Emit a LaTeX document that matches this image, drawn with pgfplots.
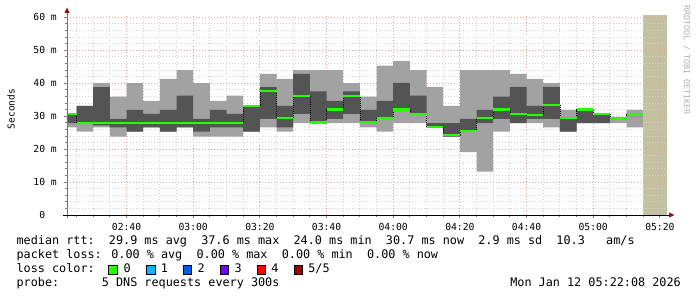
\documentclass[border=0pt]{standalone}
\usepackage{pgfplots}
\pgfplotsset{compat=1.18}
\usepackage{pgfplotstable}
\usepgfplotslibrary{fillbetween}
\usepackage{fontspec}
\setmainfont{DejaVu Sans Mono}
\newfontfamily\monof{DejaVu Sans Mono}
\newcommand\legf{\monof\fontsize{11.8}{14}\selectfont}
\newcommand\tickf{\monof\fontsize{9.7}{11}\selectfont}

\definecolor{smokelight}{RGB}{162,162,162}
\definecolor{smokedark}{RGB}{84,84,84}
\definecolor{medgreen}{RGB}{38,255,0}
\definecolor{nodata}{RGB}{196,193,161}
\definecolor{mgrid}{RGB}{232,160,160}
\definecolor{mingrid}{RGB}{210,210,210}
\definecolor{arrowred}{RGB}{140,20,20}
\definecolor{lossA}{RGB}{0,184,255}
\definecolor{lossB}{RGB}{0,89,255}
\definecolor{lossC}{RGB}{120,0,255}
\definecolor{lossD}{RGB}{255,0,0}
\definecolor{lossE}{RGB}{160,0,0}
\definecolor{wmark}{RGB}{175,175,175}

\pgfplotstableread{
x lL dL dH lH med
22.133 26.6 27.9 30.4 30.4 30.7
25 25.3 28.0 33.1 33.1 28.0
30 26.6 27.2 38.8 40.0 28.0
35 23.8 26.6 29.2 35.9 28.0
40 25.3 25.3 31.9 40.0 28.0
45 26.6 26.6 30.7 34.6 28.0
50 25.3 25.3 31.9 41.3 28.0
55 26.6 26.6 36.2 44.0 28.0
60 23.8 25.3 29.2 40.0 28.0
65 23.8 26.6 31.9 34.6 28.0
70 23.8 26.6 30.7 36.2 28.0
75 25.3 25.3 33.0 33.0 33.2
80 26.6 29.2 38.8 42.8 37.6
85 25.3 26.6 33.1 41.3 29.4
90 27.9 30.7 42.8 44.0 36.1
95 27.9 27.9 37.5 44.0 28.1
100 27.9 29.2 34.6 44.0 32.0
105 27.9 30.7 37.5 40.0 36.1
110 26.6 27.9 31.9 35.9 28.1
115 25.3 29.2 34.6 45.3 29.4
120 27.9 31.9 40.1 46.8 32.0
125 27.9 30.7 36.2 44.0 30.7
130 26.6 26.6 27.9 38.9 26.8
135 23.8 23.8 27.9 33.1 24.2
140 19.1 25.3 29.2 44.0 25.4
145 13.2 27.9 31.9 44.0 29.4
150 25.3 29.2 35.9 44.0 32.0
155 27.9 27.9 38.9 42.8 30.7
160 27.9 29.2 33.1 41.3 30.3
165 26.6 29.2 38.9 40.0 33.5
170 25.3 25.3 29.2 31.9 29.4
175 27.9 27.9 31.9 31.9 32.0
180 27.9 27.9 30.7 30.7 30.6
185 27.9 29.2 29.2 29.2 29.3
190 26.6 30.0 30.0 31.9 30.7
195 26.6 30.0 30.0 31.9 30.7
}\smoke

\begin{document}
\begin{tikzpicture}[x=1pt,y=1pt]
\begin{axis}[
  set layers,
  at={(0,0)}, anchor=south west,
  width=600pt, height=200pt, scale only axis,
  xmin=22.133, xmax=202.133, ymin=0, ymax=60.7,
  axis line style={draw=none},
  xtick={40,60,...,200},
  xticklabels={02:40,03:00,03:20,03:40,04:00,04:20,04:40,05:00,05:20},
  minor xtick={25,30,...,200},
  ytick={0,10,...,60},
  yticklabels={0\hphantom{mm},10 m,20 m,30 m,40 m,50 m,60 m},
  minor ytick={2,4,...,60},
  xtick pos=bottom, ytick pos=left,
  tick align=outside,
  major tick length=3pt, minor tick length=2pt,
  every tick/.style={gray, line width=0.8pt},
  grid=both,
  major grid style={mgrid, line width=0.8pt, dash pattern=on 1pt off 2pt},
  minor grid style={mingrid, line width=0.8pt, dash pattern=on 1pt off 2pt},
  xticklabel style={font=\tickf, inner sep=0pt, anchor=base, yshift=-13pt},
  yticklabel style={font=\tickf, inner sep=0pt, anchor=base east, xshift=-7pt, yshift=-3.5pt},
]
\addplot[on layer=axis background, fill=nodata, draw=none] coordinates {(195,0) (195,60.7) (202.133,60.7) (202.133,0)} \closedcycle;
\addplot[name path=pLL, const plot mark left, draw=none, forget plot] table[x=x,y=lL]{\smoke};
\addplot[name path=pLH, const plot mark left, draw=none, forget plot] table[x=x,y=lH]{\smoke};
\addplot[name path=pDL, const plot mark left, draw=none, forget plot] table[x=x,y=dL]{\smoke};
\addplot[name path=pDH, const plot mark left, draw=none, forget plot] table[x=x,y=dH]{\smoke};
\addplot[fill=smokelight, draw=none] fill between[of=pLH and pLL];
\addplot[fill=smokedark, draw=none] fill between[of=pDH and pDL];
\addplot[const plot mark left, black, dash pattern=on 1pt off 1pt, line width=0.6pt] table[x=x,y=med]{\smoke};
\addplot[jump mark left, medgreen, line width=2.2pt] table[x=x,y=med]{\smoke};
\end{axis}
% axis lines with arrows
\draw[gray!90!black, line width=0.9pt] (0,-3) -- (0,203);
\fill[arrowred] (-2.6,202) -- (2.6,202) -- (0,207.5) -- cycle;
\draw[black, line width=0.9pt] (-4,0) -- (603,0);
\fill[arrowred] (602,-2.6) -- (602,2.6) -- (607.5,0) -- cycle;
% unit label and watermark
\node[rotate=90, font=\monof\fontsize{9.5}{11}\selectfont, inner sep=0pt] at (-56,106) {Seconds};
\node[rotate=-90, font=\monof\fontsize{8.3}{10}\selectfont, text=wmark, inner sep=0pt] at (619.5,155) {RRDTOOL / TOBI OETIKER};
% legend text
\node[anchor=base west, inner sep=0pt, font=\legf] at (-50.6,-30) {median rtt:~~29.9 ms avg~~37.6 ms max~~24.0 ms min~~30.7 ms now~~2.9 ms sd~~10.3~~~am/s};
\node[anchor=base west, inner sep=0pt, font=\legf] at (-50.6,-44) {packet loss: 0.00 \% avg~~0.00 \% max~~0.00 \% min~~0.00 \% now};
\node[anchor=base west, inner sep=0pt, font=\legf] at (-50.6,-58) {loss color:};
\filldraw[fill=medgreen, draw=black, line width=0.8pt] (41.6,-59) rectangle ++(8.5,9);
\node[anchor=base west, inner sep=0pt, font=\legf] at (56.5,-58) {0};
\filldraw[fill=lossA, draw=black, line width=0.8pt] (79.4,-59) rectangle ++(8.5,9);
\node[anchor=base west, inner sep=0pt, font=\legf] at (93.6,-58) {1};
\filldraw[fill=lossB, draw=black, line width=0.8pt] (116.3,-59) rectangle ++(8.5,9);
\node[anchor=base west, inner sep=0pt, font=\legf] at (130.5,-58) {2};
\filldraw[fill=lossC, draw=black, line width=0.8pt] (153.2,-59) rectangle ++(8.5,9);
\node[anchor=base west, inner sep=0pt, font=\legf] at (167.4,-58) {3};
\filldraw[fill=lossD, draw=black, line width=0.8pt] (190.0,-59) rectangle ++(8.5,9);
\node[anchor=base west, inner sep=0pt, font=\legf] at (204.2,-58) {4};
\filldraw[fill=lossE, draw=black, line width=0.8pt] (226.9,-59) rectangle ++(8.5,9);
\node[anchor=base west, inner sep=0pt, font=\legf] at (241.1,-58) {5/5};
\node[anchor=base west, inner sep=0pt, font=\legf] at (-50.6,-72) {probe:~~~~~~5 DNS requests every 300s};
\node[anchor=base east, inner sep=0pt, font=\legf] at (614,-72) {Mon Jan 12 05:22:08 2026};
\pgfresetboundingbox
\path[use as bounding box] (-67,-82) rectangle (630,215);
\end{tikzpicture}
\end{document}
